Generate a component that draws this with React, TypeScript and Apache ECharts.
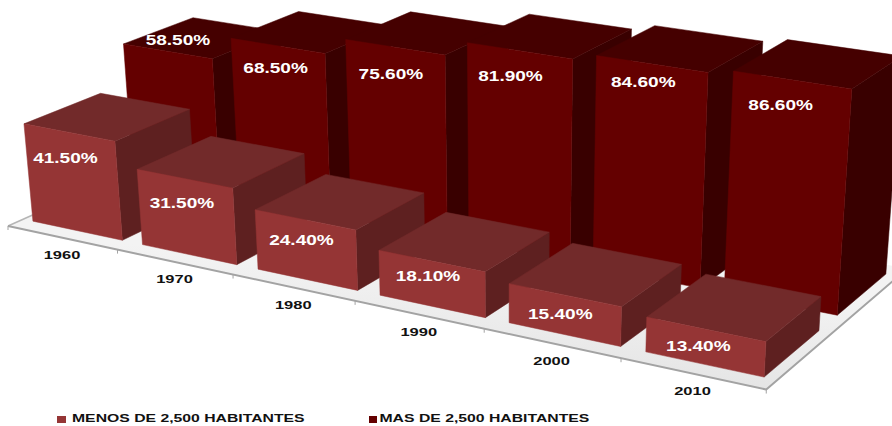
import React, { useEffect, useRef } from "react";
import * as echarts from "echarts";

const categories = ["1960", "1970", "1980", "1990", "2000", "2010"];
const menosValues = [41.5, 31.5, 24.4, 18.1, 15.4, 13.4];
const masValues = [58.5, 68.5, 75.6, 81.9, 84.6, 86.6];
const seriesNames = ["MENOS DE 2,500 HABITANTES", "MAS DE 2,500 HABITANTES"];

const WIDTH = 892;
const HEIGHT = 426;
const SERIF_FREE = "'Liberation Sans', Arial, sans-serif";

// Camera: where the three directions of the box vanish on the page.
const ORIGIN = [8, 226];
const VP_CATEGORY = [-4100, -660];
const VP_DEPTH = [1990, -660];
const VP_HEIGHT = [510, 5400];
const K_CATEGORY = -0.02597;
const K_HEIGHT = -0.000447;
const FLOOR_DEPTH = 0.11;

const BAR_INSET = 0.09;
const FRONT_ROW = [0.0078, 0.0478];
const BACK_ROW = [0.062, 0.102];

const FRONT_COLORS = { front: "#953535", top: "#722a2a", side: "#5e2020" };
const BACK_COLORS = { front: "#640000", top: "#450000", side: "#390000" };

// Manual label placement relative to the middle of each bar's top front edge.
const FRONT_NUDGE = [[-4, 26], [-3, 25], [-4, 21], [-4, 15], [-5, 19], [-8, 17.5]];
const BACK_NUDGE = [[10, -10.5], [-2.5, 22.5], [-4.5, 27], [-9.5, 25.5], [-9, 18], [-12, 25]];

function project(u: number, e: number, h: number): number[] {
  const w = 1 + K_CATEGORY * u + e + K_HEIGHT * h;
  const x = ORIGIN[0] + K_CATEGORY * VP_CATEGORY[0] * u + VP_DEPTH[0] * e + K_HEIGHT * h * VP_HEIGHT[0];
  const y = ORIGIN[1] + K_CATEGORY * VP_CATEGORY[1] * u + VP_DEPTH[1] * e + K_HEIGHT * h * VP_HEIGHT[1];
  return [x / w, y / w];
}

function face(points: number[][], fill: string) {
  return {
    type: "polygon",
    shape: { points },
    style: { fill, stroke: fill, lineWidth: 0.5 },
  };
}

function barRenderer(row: number[], colors: typeof FRONT_COLORS, nudges: number[][]) {
  return (params: any, api: any) => {
    const index = api.value(0);
    const pixel = api.coord([index, api.value(1)]);
    const base = api.coord([index, 0]);
    const band = api.size([1, 0])[0];
    const u0 = pixel[0] / band - 0.5 + BAR_INSET;
    const u1 = pixel[0] / band + 0.5 - BAR_INSET;
    const h = ((base[1] - pixel[1]) / base[1]) * 100;
    const [e0, e1] = row;
    const fbl = project(u0, e0, 0);
    const fbr = project(u1, e0, 0);
    const ftl = project(u0, e0, h);
    const ftr = project(u1, e0, h);
    const bbr = project(u1, e1, 0);
    const btl = project(u0, e1, h);
    const btr = project(u1, e1, h);
    const nudge = nudges[index];
    return {
      type: "group",
      children: [
        face([ftr, btr, bbr, fbr], colors.side),
        face([ftl, btl, btr, ftr], colors.top),
        face([ftl, ftr, fbr, fbl], colors.front),
        {
          type: "text",
          x: (ftl[0] + ftr[0]) / 2 + nudge[0],
          y: (ftl[1] + ftr[1]) / 2 + nudge[1],
          scaleX: 1.36,
          z2: 10,
          style: {
            text: `${api.value(1).toFixed(2)}%`,
            fill: "#ffffff",
            fontFamily: SERIF_FREE,
            fontSize: 14,
            fontWeight: "bold",
            align: "center",
            verticalAlign: "middle",
          },
        },
      ],
    };
  };
}

function floorRenderer(params: any, api: any) {
  const index = api.value(0);
  const center = api.coord([index, 0]);
  const band = api.size([1, 0])[0];
  const u = center[0] / band;
  const tick = project(u + 0.5, 0, 0);
  const mid = project(u, 0, 0);
  const children: any[] = [];
  if (index === 0) {
    const n = categories.length;
    const a = project(0, 0, 0);
    const b = project(n, 0, 0);
    const c = project(n, FLOOR_DEPTH, 0);
    const d = project(0, FLOOR_DEPTH, 0);
    children.push(
      {
        type: "polygon",
        shape: { points: [a, b, c, d] },
        style: {
          fill: {
            type: "linear",
            x: 0.5,
            y: 1,
            x2: 0.62,
            y2: 0.55,
            colorStops: [
              { offset: 0, color: "#e2e2e2" },
              { offset: 1, color: "#f3f3f3" },
            ],
          },
        },
      },
      {
        type: "polyline",
        shape: { points: [d, a] },
        style: { stroke: "#b5b5b5", lineWidth: 1.5, fill: "none" },
      },
      {
        type: "polyline",
        shape: { points: [a, b, c] },
        style: { stroke: "#a3a3a3", lineWidth: 2, fill: "none", lineJoin: "round" },
      },
      {
        type: "line",
        shape: { x1: a[0], y1: a[1], x2: a[0], y2: a[1] + 4 },
        style: { stroke: "#a3a3a3", lineWidth: 1 },
      }
    );
  }
  children.push(
    {
      type: "line",
      shape: { x1: tick[0], y1: tick[1], x2: tick[0], y2: tick[1] + 4 },
      style: { stroke: "#a3a3a3", lineWidth: 1 },
    },
    {
      type: "text",
      x: mid[0],
      y: mid[1] + 17.5,
      scaleX: 1.5,
      style: {
        text: categories[index],
        fill: "#111111",
        fontFamily: SERIF_FREE,
        fontSize: 11,
        fontWeight: "bold",
        align: "center",
        verticalAlign: "middle",
      },
    }
  );
  return { type: "group", children };
}

function legendItem(name: string, color: string, markerX: number, markerW: number, textX: number) {
  return [
    { type: "rect", shape: { x: markerX, y: 416, width: markerW, height: 7 }, style: { fill: color } },
    {
      type: "text",
      x: textX,
      y: 418.8,
      scaleX: 1.434,
      style: {
        text: name,
        fill: "#111111",
        fontFamily: SERIF_FREE,
        fontSize: 11,
        fontWeight: "bold",
        align: "left",
        verticalAlign: "middle",
      },
    },
  ];
}

export default function App() {
  const ref = useRef<HTMLDivElement>(null);

  useEffect(() => {
    document.body.style.margin = "0";
    document.body.style.overflow = "hidden";
    const chart = echarts.init(ref.current!, undefined, { renderer: "svg" });
    chart.setOption({
      animation: false,
      grid: { left: 0, top: 0, width: WIDTH, height: HEIGHT },
      xAxis: { type: "category", data: categories, show: false },
      yAxis: { type: "value", min: 0, max: 100, show: false },
      graphic: [
        ...legendItem(seriesNames[0], FRONT_COLORS.front, 57, 9, 72),
        ...legendItem(seriesNames[1], BACK_COLORS.front, 369, 8, 379.5),
      ],
      series: [
        {
          type: "custom",
          name: "floor",
          silent: true,
          renderItem: floorRenderer,
          encode: { x: 0, y: 1 },
          data: categories.map((c) => [c, 0]),
          z: 1,
        },
        {
          type: "custom",
          name: seriesNames[1],
          renderItem: barRenderer(BACK_ROW, BACK_COLORS, BACK_NUDGE),
          encode: { x: 0, y: 1 },
          data: categories.map((c, i) => [c, masValues[i]]),
          z: 2,
        },
        {
          type: "custom",
          name: seriesNames[0],
          renderItem: barRenderer(FRONT_ROW, FRONT_COLORS, FRONT_NUDGE),
          encode: { x: 0, y: 1 },
          data: categories.map((c, i) => [c, menosValues[i]]),
          z: 3,
        },
      ],
    });
    return () => chart.dispose();
  }, []);

  return <div ref={ref} style={{ width: WIDTH, height: HEIGHT }} />;
}
